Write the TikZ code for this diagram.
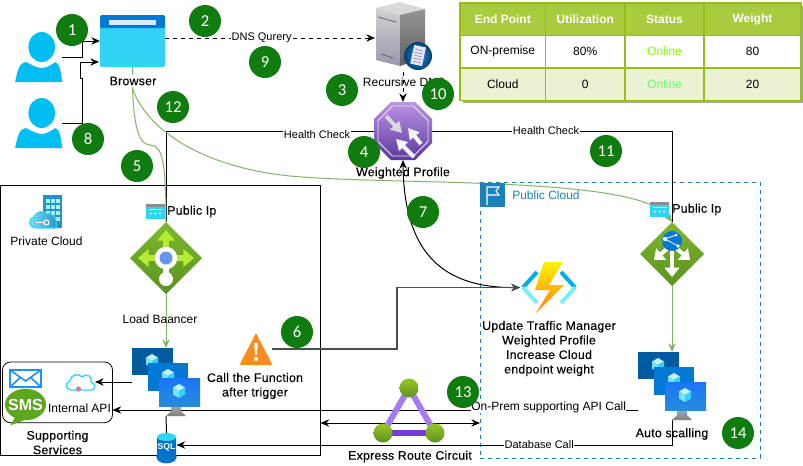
\documentclass[tikz,border=0pt]{standalone}
\usepackage{fontspec}
\setmainfont{Liberation Sans}
\newfontfamily\badgefamily{Carlito}
\newfontfamily\semifamily[FakeBold=0.25,LetterSpace=2]{Liberation Sans}
\usetikzlibrary{positioning,arrows.meta,calc}
\definecolor{badgegreen}{HTML}{107C10}
\definecolor{usercyan}{HTML}{00BEF2}
\definecolor{skyblue}{HTML}{32D4F5}
\definecolor{barblue}{HTML}{0078D4}
\definecolor{darkblue}{HTML}{005BA1}
\definecolor{linegreen}{HTML}{82B366}
\definecolor{tablehead}{HTML}{A9CC3E}
\definecolor{tableline}{HTML}{97BF0D}
\definecolor{tablerow}{HTML}{EAF2D3}
\definecolor{cloudblue}{HTML}{1A81BD}
\definecolor{lbgreenA}{HTML}{7FB82F}
\definecolor{lbgreenB}{HTML}{5A9220}
\definecolor{arrowgreen}{HTML}{B4EC36}
\definecolor{alertorange}{HTML}{F78D1E}
\definecolor{purpletop}{HTML}{BB93E3}
\definecolor{purplebottom}{HTML}{5B3A9E}
\definecolor{routepurple}{HTML}{A67AF4}
\definecolor{routedark}{HTML}{773ADC}
\definecolor{smsgreen}{HTML}{5BA81E}
\definecolor{mailblue}{HTML}{1E90FF}
\newcommand{\px}{.75pt}

\tikzset{
  cubepic/.pic={
    \fill[white!70!skyblue] (0,-7) -- (6,-3.5) -- (0,0) -- (-6,-3.5) -- cycle;
    \fill[white!35!skyblue] (-6,-3.5) -- (0,0) -- (0,7) -- (-6,3.5) -- cycle;
    \fill[skyblue] (6,-3.5) -- (0,0) -- (0,7) -- (6,3.5) -- cycle;
  },
  userpic/.pic={
    \fill[usercyan] (3,-10) ellipse (13.3 and 15);
    \fill[usercyan] (-23.6,25) .. controls (-21,12) and (-19,6) .. (-13,5) .. controls (-8,7) and (-3,11) .. (3,11) .. controls (9,11) and (13,7) .. (17,5) .. controls (21,7) and (22,14) .. (23.6,25) -- cycle;
  },
  vmpic/.pic={
    \fill[darkblue] (-34,-34) rectangle (7,-7);
    \pic at (-14,-21) {cubepic};
    \fill[barblue] (-18,-19) rectangle (22,9);
    \pic at (2,-6) {cubepic};
    \shade[top color=black!35,bottom color=black!50] (5,24) -- (15,24) -- (15,29) -- (20,34) -- (0,34) -- (5,29) -- cycle;
    \shade[top color=blue!45!skyblue,bottom color=barblue!85] (-7,-4) rectangle (34,24);
    \pic at (13,9) {cubepic};
  },
  ippic/.pic={
    \fill[skyblue] (-9.5,-7.5) rectangle (9.5,7.5);
    \fill[black!45] (-9.5,-7.5) rectangle (9.5,-4.5);
    \fill[white!80!skyblue] (-7,-3) rectangle (7,-1.5);
    \fill[white] (-4.5,2) circle (1.1) (0,2) circle (1.1) (4.5,2) circle (1.1);
  },
  cloudpic/.pic={
    \draw[draw=skyblue, line width=1pt, fill=white] (-10,8) .. controls (-16,8) and (-16,0) .. (-11,-1) .. controls (-10,-8) and (-2,-9) .. (1,-5) .. controls (5,-9) and (12,-6) .. (10,0) .. controls (15,1) and (15,8) .. (10,8) -- cycle;
  }
}

\begin{document}
\begin{tikzpicture}[x=.75pt, y=-.75pt,
icon/.style ={rectangle, inner sep=0, outer sep=0},
caption/.style ={font=\fontsize{9}{10.9}\selectfont, align=center, inner sep=0},
boldcaption/.style ={font=\fontsize{9.25}{10.9}\semifamily\selectfont, align=center, inner sep=0},
linecaption/.style ={font=\fontsize{8.25}{10}\selectfont, fill=white, inner sep=.5pt},
badge/.style ={circle, fill=badgegreen, text=white, minimum size=32*\px, inner sep=0, font=\fontsize{12.5}{14}\badgefamily\selectfont},
cell/.style ={rectangle, draw=tableline, line width=1pt, inner sep=0, outer sep=0, minimum height=32.4*\px, text centered, font=\fontsize{9}{10.9}\selectfont},
headcell/.style ={cell, fill=tablehead, text=white, font=\fontsize{9}{10.9}\selectfont\bfseries},
input/.style ={-{Stealth[length=6.5pt,width=5.5pt]}, line width=.75pt},
dnsline/.style ={input, dashed},
biline/.style ={{Stealth[length=6.5pt,width=5.5pt]}-{Stealth[length=6.5pt,width=5.5pt]}, line width=.75pt},
connection/.style ={-, line width=.75pt},
greenline/.style ={-, draw=linegreen, line width=.75pt},
greeninput/.style ={-{Stealth[length=6.5pt,width=5.5pt]}, draw=linegreen, line width=.75pt},
greyinput/.style ={input, draw=black!70, line width=1pt},
]
\useasboundingbox (0,0) rectangle (803,465);
\fill[white] (0,0) rectangle (803,465);

\node (PRIVATEBOX) [icon, draw=black, line width=.75pt, minimum width=320*\px, minimum height=270*\px] at (160.5,320) {};
\node (PUBLICBOX) [icon, draw=cloudblue, dashed, line width=.75pt, minimum width=280*\px, minimum height=275.5*\px] at (620,320.25) {};
\node (SUPPORTBOX) [icon, draw=black, rounded corners=6pt, line width=.6pt, minimum width=110*\px, minimum height=60.7*\px] at (57.5,392.35) {};

\node (USERA) [icon, minimum width=47.2*\px, minimum height=50*\px] at (38.7,57) {};
\node (USERB) [icon, minimum width=47.2*\px, minimum height=50*\px] at (38.7,123) {};
\node (BROWSER) [icon, minimum width=65*\px, minimum height=52*\px] at (132.5,41) {};
\node (SERVER) [icon, minimum width=56*\px, minimum height=68*\px] at (403,38) {};
\node (PROFILE) [icon, minimum width=58*\px, minimum height=58*\px] at (403,131) {};
\node (LBALANCER) [icon, minimum width=72*\px, minimum height=72*\px] at (166,258) {};
\node (RBALANCER) [icon, minimum width=64*\px, minimum height=64*\px] at (672,254) {};
\node (VMLEFT) [icon, minimum width=68*\px, minimum height=68*\px] at (166,382) {};
\node (VMRIGHT) [icon, minimum width=68*\px, minimum height=68*\px] at (672,386) {};
\node (SQLDB) [icon, minimum width=20*\px, minimum height=24*\px] at (166.5,445) {};
\node (APICLOUD) [icon, minimum width=28*\px, minimum height=22*\px] at (81,382) {};
\node (ALERT) [icon, minimum width=32*\px, minimum height=32*\px] at (256,349) {};
\node (FUNCTION) [icon, minimum width=58*\px, minimum height=51*\px] at (549,287.5) {};

\coordinate (ELBOWA) at (82,41);
\coordinate (ELBOWB) at (82,78);
\coordinate (ELBOWC) at (80,78);
\coordinate (BROWSERIN) at (99,62);
\coordinate (ELBOWD) at (397,320);
\coordinate (ONPREMEND) at (638,410);
\coordinate (PEERING) at (400,423);

\draw[input] (USERA.east) -| (ELBOWA) -- (BROWSER.west);
\draw[input] (USERB.east) -| (ELBOWB) -- (ELBOWC) |- (BROWSERIN);
\draw[dnsline] (BROWSER.east |- SERVER.west) -- node[linecaption, pos=0.46] {DNS Qurery} (SERVER.west);
\draw[dnsline] (SERVER.south) -- (PROFILE.north);
\draw[connection] (PROFILE.west) -| node[linecaption, pos=0.137, yshift=-3pt] {Health Check} (LBALANCER.north);
\draw[connection] (PROFILE.east) -| node[linecaption, pos=0.2375] {Health Check} (RBALANCER.north);
\draw[greenline] (BROWSER.south) -- ++(0,22) .. controls (134,120) and (137,145) .. (150,145) .. controls (163,145) and (166,165) .. (LBALANCER.north);
\draw[greeninput] (BROWSER.south) -- ++(0,22) .. controls (150,135) and (210,168) .. (290,176) .. controls (400,186) and (640,175) .. (RBALANCER.north);
\draw[greeninput] (LBALANCER.south) -- (VMLEFT.north);
\draw[greeninput] (RBALANCER.south) -- (VMRIGHT.north);
\draw[biline] (PROFILE.south) .. controls (404,250) and (440,288) .. (FUNCTION.west);
\draw[greyinput] (ALERT.east) -| (ELBOWD) |- (FUNCTION.west);
\draw[input] (VMLEFT.west) -- (APICLOUD.east);
\draw[connection] (VMLEFT.south) -- (SQLDB.north);
\draw[input] (ONPREMEND) -- node[caption, fill=white, pos=0.17, yshift=2pt] {On-Prem supporting API Call} (SUPPORTBOX.east |- ONPREMEND);
\draw[biline] (PRIVATEBOX.east |- PEERING) -- (PUBLICBOX.west |- PEERING);
\draw[input] (VMRIGHT.south) |- node[linecaption, pos=0.634] {Database Call} (SQLDB.east);

% users and browser
\pic at (USERA) {userpic};
\pic at (USERB) {userpic};
\fill[skyblue, rounded corners=1pt] (100,25) rectangle (165,67);
\fill[barblue, rounded corners=1pt] (100,15) rectangle (165,28);
\fill[white!85!barblue] (109,19.5) rectangle (156,24.5);
\node (BROWSERLABEL) [boldcaption, fill=white, inner sep=1pt] at (133,81) {Browser};

% dns server
\fill[black!15] (376,8) -- (400,2) -- (425,9) -- (400,15) -- cycle;
\shade[top color=black!18,bottom color=blue!20!black!40] (376,8) -- (400,15) -- (400,66) -- (376,60) -- cycle;
\shade[top color=black!42,bottom color=black!62] (400,15) -- (425,9) -- (425,58) -- (400,66) -- cycle;
\draw[black!60, line width=.6pt] (378,17) -- (396,22) (381,54) -- (393,58);
\shade[inner color=barblue!80, outer color=darkblue!70!black] (418,56) circle (14);
\fill[white!90!blue, rotate around={-12:(418,56)}] (412,46) rectangle (424,65);
\draw[black!50, line width=.4pt, rotate around={-12:(418,56)}] (414,50) -- (422,50) (414,53) -- (422,53) (414,56) -- (422,56) (414,59) -- (422,59) (414,62) -- (422,62);
\node (SERVERLABEL) [caption] at (404,82) {Recursive DNS};

% weighted profile
\shade[top color=purpletop, bottom color=purplebottom] (391,102) -- (415,102) -- (432,119) -- (432,143) -- (415,160) -- (391,160) -- (374,143) -- (374,119) -- cycle;
\draw[white!70!purpletop, line width=.7pt] (392.5,106) -- (413.5,106) -- (428,120.5) -- (428,141.5) -- (413.5,156) -- (392.5,156) -- (378,141.5) -- (378,120.5) -- cycle;
\draw[white!85!black, line width=3pt, -{Triangle[length=8pt,width=9pt]}] (386,116) -- (402,133);
\draw[white!90!purpletop, line width=3pt, -{Triangle[length=8pt,width=9pt]}] (421,144) -- (408,128);
\draw[white!90!purpletop, line width=3pt, -{Triangle[length=8pt,width=9pt]}] (414,157) -- (396,139);
\node (PROFILELABEL) [boldcaption] at (403,173) {Weighted Profile};

% private cloud side
\fill[cloudblue!75!skyblue] (43,195) rectangle (62,228);
\foreach \bx in {46,51,56} \foreach \by in {199,205,211,217} \fill[white!60!skyblue] (\bx,\by) rectangle ++(3.5,3.5);
\shade[draw=skyblue, line width=.8pt, left color=white!40!skyblue, right color=cloudblue!80!skyblue] (37,228) .. controls (27,228) and (28,218) .. (34,217) .. controls (36,211) and (44,210) .. (46,214) .. controls (51,212) and (58,216) .. (56,228) -- cycle;
\draw[white, line width=.8pt] (36,222.5) -- (44,222.5);
\draw[white, line width=.8pt] (46.5,222.5) circle (2.5);
\node (PRIVATELABEL) [caption] at (46.5,241.5) {Private Cloud};
\pic at (155.5,211.5) {ippic};
\node (IPLEFTLABEL) [boldcaption, anchor=west] at (167,211.5) {Public Ip};
\shade[top color=lbgreenA,bottom color=lbgreenB] (166,222) -- (202,258) -- (166,294) -- (130,258) -- cycle;
\draw[arrowgreen, line width=4pt, -{Triangle[length=8pt,width=13pt]}] (166,258) -- (166,230);
\draw[arrowgreen, line width=4pt, -{Triangle[length=8pt,width=13pt]}] (166,258) -- (138,258);
\draw[arrowgreen, line width=4pt, -{Triangle[length=8pt,width=13pt]}] (166,258) -- (194,258);
\draw[white, line width=4pt] (166,258) -- (166,279);
\fill[white] (166,258) circle (11.3) (166,279) circle (7);
\fill[blue!35!barblue!60!white] (166,258) circle (6.5);
\node (LBLABEL) [caption] at (160,319) {Load Baancer};
\pic at (VMLEFT) {vmpic};
\fill[barblue!80!darkblue] (SQLDB.center) +(-9.5,-7) -- +(-9.5,9) .. controls +(-5,12.5) and +(5,12.5) .. +(9.5,9) -- +(9.5,-7) -- cycle;
\fill[skyblue] (SQLDB.center) +(0,-8) ellipse (9.5 and 4);
\node (SQLLABEL) [text=white, font=\fontsize{6.5}{7}\selectfont\bfseries, inner sep=0] at (166.5,447) {SQL};
\draw[mailblue, fill=white, line width=1.2pt] (10,370) rectangle (41,387);
\draw[mailblue, line width=1.2pt] (10,370) -- (25.5,381) -- (41,370) (10,387) -- (21,377) (41,387) -- (30,377);
\fill[smsgreen] (25.5,404.5) ellipse (20.5 and 15.7);
\fill[smsgreen] (16,416) -- (10,425.5) -- (27,419) -- cycle;
\node (SMSLABEL) [text=white, font=\fontsize{12}{13}\selectfont\bfseries, inner sep=0] at (25.5,405) {SMS};
\pic at (APICLOUD) {cloudpic};
\fill[violet!50!white] (78.5,389) circle (2.6);
\node (APILABEL) [caption] at (79.5,408.5) {Internal API};
\node (SUPPORTLABEL) [boldcaption] at (57.5,442.5) {Supporting\\Services};
\fill[alertorange, rounded corners=1pt] (256,333) -- (272.5,365) -- (239.5,365) -- cycle;
\fill[white] (254.2,343) -- (257.8,343) -- (257,355) -- (255,355) -- cycle;
\fill[white] (256,359) circle (2);
\node (ALERTLABEL) [boldcaption] at (255,386) {Call the Function\\after trigger};

% public cloud side
\fill[cloudblue] (480,183) rectangle (505,207);
\draw[white, line width=.8pt] (487,205) -- (487,187) -- (499,187) -- (496,191) -- (499,195) -- (487,195);
\node (PUBLICLABEL) [caption, text=cloudblue, anchor=west] at (512,195.5) {Public Cloud};
\pic at (659.5,209.5) {ippic};
\node (IPRIGHTLABEL) [boldcaption, anchor=west] at (672,209.5) {Public Ip};
\shade[top color=lbgreenA,bottom color=lbgreenB] (672,222) -- (704,254) -- (672,286) -- (640,254) -- cycle;
\draw[white, line width=3pt, -{Triangle[length=7pt,width=11pt]}] (672,250) -- (672,277);
\draw[white, line width=3pt, -{Triangle[length=7pt,width=11pt]}] (668,248) -- (654,260);
\draw[white, line width=3pt, -{Triangle[length=7pt,width=11pt]}] (676,248) -- (690,260);
\fill[barblue] (672,241) circle (10);
\draw[white, line width=.6pt] (665,239) -- (676,235) (665,239) -- (678,246);
\fill[white] (665,239) circle (2.2) (676,235) circle (1.5) (678,246) circle (1.8);
\pic at (VMRIGHT) {vmpic};
\node (VMRIGHTLABEL) [boldcaption] at (672,434) {Auto scalling};

% function
\draw[barblue!60!cyan, line width=3pt] (537,272) -- (523,287.5);
\draw[skyblue!60!cyan!60!white, line width=3pt] (523,287.5) -- (537,303);
\draw[barblue!60!cyan, line width=3pt] (561,272) -- (575,287.5);
\draw[skyblue!60!cyan!60!white, line width=3pt] (575,287.5) -- (561,303);
\shade[top color=yellow!90!orange, bottom color=orange!90!red!90!yellow] (563,262) -- (544,262) -- (535,290) -- (550,290) -- (536,313) -- (564,285) -- (549,285) -- cycle;
\node (FUNCTIONLABEL) [boldcaption] at (549,348.5) {Update Traffic Manager\\Weighted Profile\\Increase Cloud\\endpoint weight};

% express route
\draw[routepurple, line width=4.5pt] (383,433) -- (409,388) -- (435,433);
\draw[routedark, line width=5pt] (383,433) -- (435,433);
\shade[top color=lbgreenA!80!yellow, bottom color=lbgreenB] (409,388) circle (9.5);
\shade[top color=lbgreenA!80!yellow, bottom color=lbgreenB] (383,433) circle (9.5);
\shade[top color=lbgreenA!80!yellow, bottom color=lbgreenB] (435,433) circle (9.5);
\node (EXPRESSLABEL) [boldcaption] at (410,456.5) {Express Route Circuit};

% table
\fill[black!35] (463,6) rectangle (803,103);
\node (HEADA) [headcell, minimum width=85.5*\px] at (502.75,19.25) {End Point};
\node (HEADB) [headcell, minimum width=79.5*\px] at (585.25,19.25) {Utilization};
\node (HEADC) [headcell, minimum width=79*\px] at (664.5,19.25) {Status};
\node (HEADD) [headcell, minimum width=97*\px] at (752.5,19.25) {Weight};
\node (ROWAA) [cell, fill=white, minimum width=85.5*\px] at (502.75,51.65) {ON-premise};
\node (ROWAB) [cell, fill=white, minimum width=79.5*\px] at (585.25,51.65) {80\%};
\node (ROWAC) [cell, fill=white, minimum width=79*\px, text=green!50!yellow] at (664.5,51.65) {Online};
\node (ROWAD) [cell, fill=white, minimum width=97*\px] at (752.5,51.65) {80};
\node (ROWBA) [cell, fill=tablerow, minimum width=85.5*\px] at (502.75,84.05) {Cloud};
\node (ROWBB) [cell, fill=tablerow, minimum width=79.5*\px] at (585.25,84.05) {0};
\node (ROWBC) [cell, fill=tablerow, minimum width=79*\px, text=green!60!white] at (664.5,84.05) {Online};
\node (ROWBD) [cell, fill=tablerow, minimum width=97*\px] at (752.5,84.05) {20};

% steps
\node (STEPA) [badge] at (72,30) {1};
\node (STEPB) [badge] at (205,21) {2};
\node (STEPC) [badge] at (342,90) {3};
\node (STEPD) [badge] at (364,152) {4};
\node (STEPE) [badge] at (137,166) {5};
\node (STEPF) [badge] at (297,332) {6};
\node (STEPG) [badge] at (423,212) {7};
\node (STEPH) [badge] at (88,139) {8};
\node (STEPI) [badge] at (265,62) {9};
\node (STEPJ) [badge] at (438,94) {10};
\node (STEPK) [badge] at (606,151) {11};
\node (STEPL) [badge] at (173,107) {12};
\node (STEPM) [badge] at (463,392) {13};
\node (STEPN) [badge] at (738,433) {14};

\end{tikzpicture}
\end{document}
